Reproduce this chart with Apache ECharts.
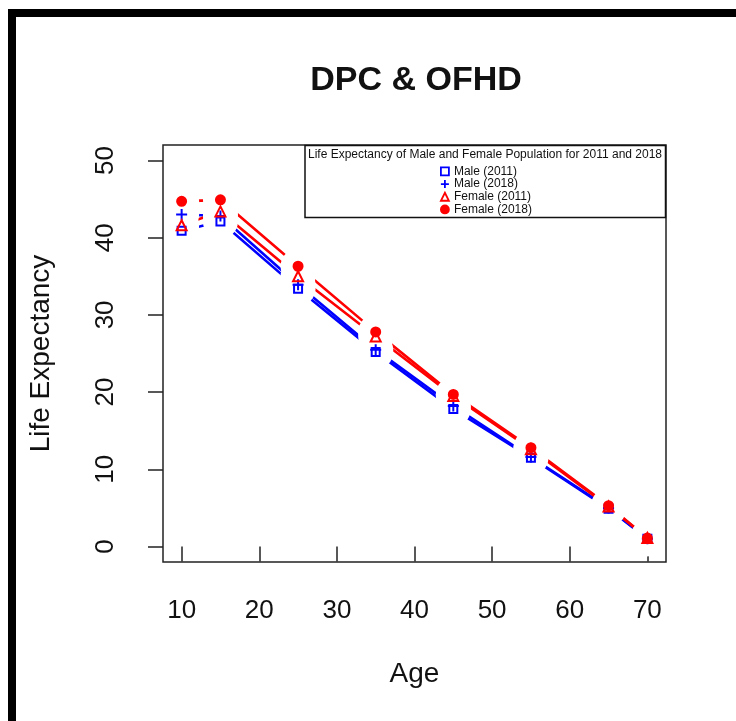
<!DOCTYPE html>
<html>
<head>
<meta charset="utf-8">
<script src="https://cdn.jsdelivr.net/npm/echarts@6/dist/echarts.min.js"></script>
<style>
    html, body { margin: 0; padding: 0; background: #fff; }
    #lifechart { width: 736px; height: 721px; }
</style>
</head>
<body>
<div id="lifechart"></div>
<script>
var ages = [10, 15, 25, 35, 45, 55, 65, 70];
var male2011 = [40.9, 42.1, 33.4, 25.2, 17.8, 11.5, 4.9, 1.0];
var male2018 = [43.0, 42.8, 33.9, 25.5, 18.2, 11.6, 5.0, 1.0];
var female2011 = [41.6, 43.4, 35.0, 27.2, 19.5, 12.6, 5.2, 1.1];
var female2018 = [44.7, 44.9, 36.3, 27.8, 19.7, 12.8, 5.3, 1.1];
var xTicks = [10, 20, 30, 40, 50, 60, 70];
var yTicks = [0, 10, 20, 30, 40, 50];
var seriesNames = ['Male (2011)', 'Male (2018)', 'Female (2011)', 'Female (2018)'];
var legendTitle = 'Life Expectancy of Male and Female Population for 2011 and 2018';

var FONT = 'Liberation Sans, Arial, sans-serif';
var BLUE = '#0000ff';
var RED = '#ff0000';

function pairs(vals) {
    return ages.map(function (a, i) { return [a, vals[i]]; });
}

var groups = [
    { name: seriesNames[0], vals: male2011, color: BLUE, symbol: 'rect', size: 8, fill: 'rgba(0,0,0,0)' },
    { name: seriesNames[1], vals: male2018, color: BLUE, symbol: 'path://M0,5L10,5M5,0L5,10', size: 11, fill: 'rgba(0,0,0,0)' },
    { name: seriesNames[2], vals: female2011, color: RED, symbol: 'triangle', size: 10, fill: 'rgba(0,0,0,0)' },
    { name: seriesNames[3], vals: female2018, color: RED, symbol: 'circle', size: 9, fill: RED }
];

var series = [];
// lines first, then white halos to cut gaps (R type="b"), then markers
groups.forEach(function (g, i) {
    series.push({
        name: 'line' + i,
        type: 'line',
        data: pairs(g.vals),
        showSymbol: false,
        z: 2,
        lineStyle: { color: g.color, width: 2.6 }
    });
});
groups.forEach(function (g, i) {
    series.push({
        name: 'halo' + i,
        type: 'scatter',
        data: pairs(g.vals),
        symbol: 'circle',
        symbolSize: 35,
        z: 3,
        itemStyle: { color: '#fff', opacity: 1 },
        silent: true
    });
});
groups.forEach(function (g) {
    series.push({
        name: g.name,
        type: 'scatter',
        data: pairs(g.vals),
        symbol: g.symbol,
        symbolSize: g.size,
        z: 4,
        itemStyle: { color: g.fill, borderColor: g.color, borderWidth: 2, opacity: 1 }
    });
});

var chart = echarts.init(document.getElementById('lifechart'));

var option = {
    animation: false,
    backgroundColor: '#fff',
    grid: {
        left: 163,
        right: 70,
        top: 145,
        bottom: 159,
        show: true,
        borderColor: '#222',
        borderWidth: 1.5,
        backgroundColor: 'rgba(0,0,0,0)'
    },
    legend: {
        data: seriesNames,
        orient: 'vertical',
        left: 440,
        top: 165,
        z: 10,
        padding: 0,
        itemGap: 0,
        itemWidth: 8,
        itemHeight: 8,
        itemStyle: { borderWidth: 1.8 },
        textStyle: { fontFamily: FONT, fontSize: 12, color: '#111', lineHeight: 12.7 },
        selectedMode: false
    },
    xAxis: {
        type: 'value',
        min: 7.6,
        max: 72.4,
        name: 'Age',
        nameLocation: 'middle',
        nameGap: 98,
        nameTextStyle: { fontFamily: FONT, fontSize: 28, color: '#111' },
        splitLine: { show: false },
        axisLine: { show: false },
        axisTick: {
            show: true,
            customValues: xTicks,
            length: 15,
            lineStyle: { color: '#222', width: 1.5 }
        },
        axisLabel: {
            customValues: xTicks,
            margin: 36,
            fontFamily: FONT,
            fontSize: 26,
            color: '#111'
        }
    },
    yAxis: {
        type: 'value',
        min: -2,
        max: 52,
        name: 'Life Expectancy',
        nameLocation: 'middle',
        nameRotate: 90,
        nameGap: 108,
        nameTextStyle: { fontFamily: FONT, fontSize: 28, color: '#111' },
        splitLine: { show: false },
        axisLine: { show: false },
        axisTick: {
            show: true,
            customValues: yTicks,
            length: 15,
            lineStyle: { color: '#222', width: 1.5 }
        },
        axisLabel: {
            customValues: yTicks,
            rotate: 90,
            margin: 44,
            fontFamily: FONT,
            fontSize: 26,
            color: '#111'
        }
    },
    graphic: [
        {
            type: 'rect',
            shape: { x: 12, y: 13, width: 760, height: 760 },
            style: { fill: 'none', stroke: '#000', lineWidth: 8 },
            silent: true
        },
        {
            type: 'text',
            style: {
                text: 'DPC & OFHD',
                x: 416,
                y: 81,
                textAlign: 'center',
                textVerticalAlign: 'middle',
                font: 'bold 34px ' + FONT,
                fill: '#111'
            }
        },
        {
            type: 'rect',
            shape: { x: 305, y: 145.5, width: 360.5, height: 72 },
            style: { fill: '#fff', stroke: '#111', lineWidth: 1.5 },
            z: 5
        },
        {
            type: 'text',
            style: {
                text: legendTitle,
                x: 485,
                y: 155,
                textAlign: 'center',
                textVerticalAlign: 'middle',
                font: '12px ' + FONT,
                fill: '#111'
            },
            z: 6
        }
    ],
    series: series
};
chart.setOption(option);
</script>
</body>
</html>
